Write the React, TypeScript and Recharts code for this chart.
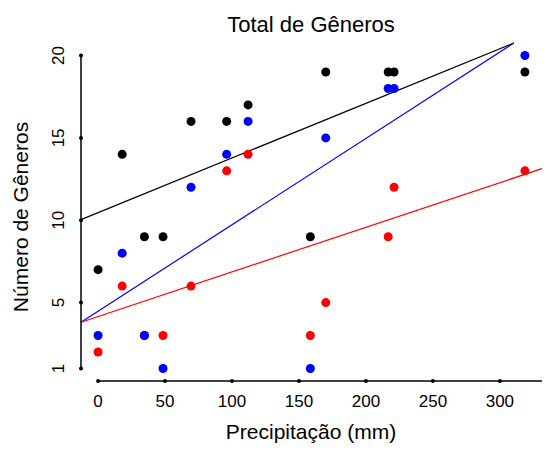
import { Customized, Scatter, ScatterChart, XAxis, YAxis } from "recharts";

// precipitation (mm) for the 12 samples
const precip = [0, 18, 34.6, 48.5, 69.4, 96, 112, 158.5, 170, 216.6, 221, 318.7];

const totalGen = [7, 14, 9, 9, 16, 16, 17, 9, 19, 19, 19, 19];
const blueGen = [3, 8, 3, 1, 12, 14, 16, 1, 15, 18, 18, 20];
const redGen = [2, 6, 3, 3, 6, 13, 14, 3, 5, 9, 12, 13];

// fitted lines, ends
const totalFit = [
  { x: -12.75, y: 10.04 },
  { x: 310.4, y: 20.76 },
];
const blueFit = [
  { x: -12.75, y: 3.81 },
  { x: 310.4, y: 20.76 },
];
const redFit = [
  { x: -12.75, y: 3.81 },
  { x: 331.45, y: 13.13 },
];

const xTicks = [0, 50, 100, 150, 200, 250, 300];
const yTicks = [1, 5, 10, 15, 20];

const X_DOMAIN: [number, number] = [-12.75, 331.45];
const Y_DOMAIN: [number, number] = [0.24, 20.76];

const FONT = "Liberation Sans, Arial, sans-serif";
const PLOT_LEFT = 81;
const PLOT_RIGHT = 542;
const PLOT_TOP = 43;
const PLOT_BOTTOM = 381;

// pixels per data unit, used for the R-style axis line pieces between ticks
const X_PX = (PLOT_RIGHT - PLOT_LEFT) / (X_DOMAIN[1] - X_DOMAIN[0]);
const Y_PX = (PLOT_BOTTOM - PLOT_TOP) / (Y_DOMAIN[1] - Y_DOMAIN[0]);

const toPoints = (ys: number[]) => ys.map((y, i) => ({ x: precip[i], y }));

const dot = (color: string) => (props: any) =>
  <circle cx={props.cx} cy={props.cy} r={4.5} fill={color} />;

const noDot = () => <g />;

function XTick(props: any) {
  const { x, payload } = props;
  const i = xTicks.indexOf(payload.value);
  const next = i < xTicks.length - 1 ? xTicks[i + 1] : X_DOMAIN[1];
  const x2 = Math.min(x + (next - payload.value) * X_PX, PLOT_RIGHT);
  return (
    <g>
      <path d={`M${x},${PLOT_BOTTOM}L${x2},${PLOT_BOTTOM}`} stroke="#000" strokeWidth={1.5} fill="none" />
      <circle cx={x} cy={PLOT_BOTTOM} r={2} fill="#000" />
      <text x={x} y={PLOT_BOTTOM + 26} textAnchor="middle" fontSize={17} fontFamily={FONT} fill="#000">
        {payload.value}
      </text>
    </g>
  );
}

function YTick(props: any) {
  const { y, payload } = props;
  const i = yTicks.indexOf(payload.value);
  const below = i > 0 ? yTicks[i - 1] : payload.value;
  const y2 = y + (payload.value - below) * Y_PX;
  return (
    <g>
      <path d={`M${PLOT_LEFT},${y}L${PLOT_LEFT},${y2}`} stroke="#000" strokeWidth={1.5} fill="none" />
      <circle cx={PLOT_LEFT} cy={y} r={2} fill="#000" />
      <text
        x={0}
        y={0}
        transform={`translate(${PLOT_LEFT - 17}, ${y}) rotate(-90)`}
        textAnchor="middle"
        fontSize={17}
        fontFamily={FONT}
        fill="#000"
      >
        {payload.value}
      </text>
    </g>
  );
}

function Titles() {
  return (
    <g>
      <text x={311} y={32} textAnchor="middle" fontSize={22} fontFamily={FONT} fill="#000">
        Total de Gêneros
      </text>
      <text x={311} y={439} textAnchor="middle" fontSize={21} fontFamily={FONT} fill="#000">
        Precipitação (mm)
      </text>
      <text
        x={0}
        y={0}
        transform="translate(28, 217) rotate(-90)"
        textAnchor="middle"
        fontSize={21}
        fontFamily={FONT}
        fill="#000"
      >
        Número de Gêneros
      </text>
    </g>
  );
}

export default function App() {
  return (
    <div style={{ position: "absolute", left: 0, top: 0, background: "#fff" }}>
      <ScatterChart width={546} height={449} margin={{ top: PLOT_TOP, right: 4, bottom: 1, left: 0 }}>
        <XAxis
          type="number"
          dataKey="x"
          domain={X_DOMAIN}
          ticks={xTicks}
          axisLine={false}
          tickLine={false}
          tick={<XTick />}
          height={67}
        />
        <YAxis
          type="number"
          dataKey="y"
          domain={Y_DOMAIN}
          ticks={yTicks}
          axisLine={false}
          tickLine={false}
          tick={<YTick />}
          width={81}
        />
        <Customized component={<Titles />} />
        <Scatter data={totalFit} fill="#000" line={{ stroke: "#000", strokeWidth: 1.2 }} shape={noDot} isAnimationActive={false} />
        <Scatter data={blueFit} fill="#0000ff" line={{ stroke: "#0000ff", strokeWidth: 1.2 }} shape={noDot} isAnimationActive={false} />
        <Scatter data={redFit} fill="#ff0000" line={{ stroke: "#ff0000", strokeWidth: 1.2 }} shape={noDot} isAnimationActive={false} />
        <Scatter data={toPoints(totalGen)} fill="#000" shape={dot("#000")} isAnimationActive={false} />
        <Scatter data={toPoints(redGen)} fill="#ff0000" shape={dot("#ff0000")} isAnimationActive={false} />
        <Scatter data={toPoints(blueGen)} fill="#0000ff" shape={dot("#0000ff")} isAnimationActive={false} />
      </ScatterChart>
    </div>
  );
}
